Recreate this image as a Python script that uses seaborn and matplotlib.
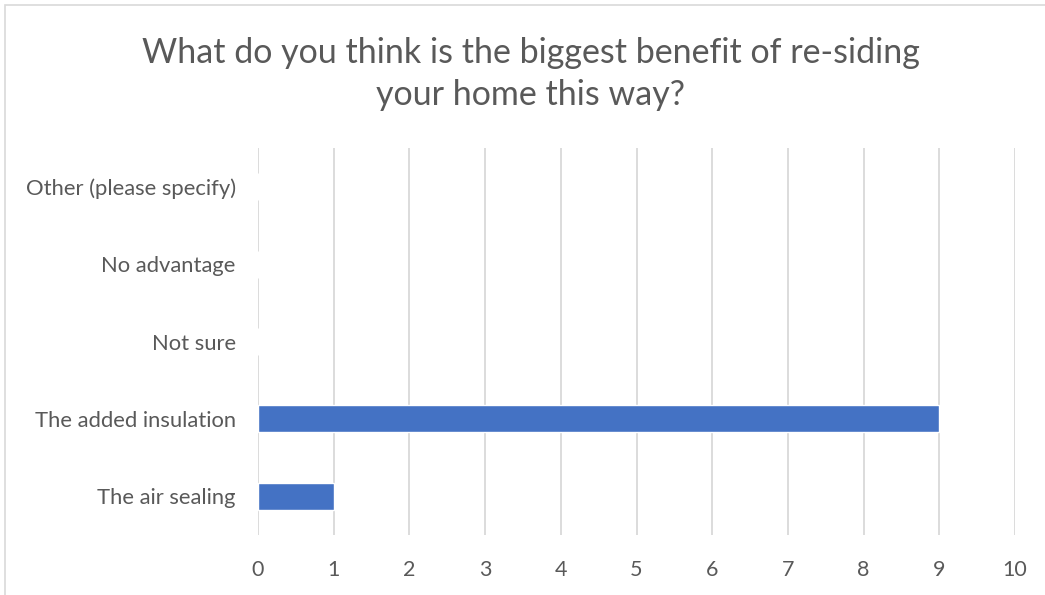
import matplotlib
matplotlib.use("Agg")
import matplotlib.pyplot as plt
from matplotlib.patches import Rectangle
import seaborn as sns
import pandas as pd

# Survey responses: biggest benefit of re-siding
categories = ["Other (please specify)", "No advantage", "Not sure",
              "The added insulation", "The air sealing"]
counts = [0, 0, 0, 9, 1]
x_ticks = [0, 1, 2, 3, 4, 5, 6, 7, 8, 9, 10]

title = "What do you think is the biggest benefit of re-siding\nyour home this way?"

sns.set_theme(style="white")
plt.rcParams["font.family"] = ["Lato", "DejaVu Sans"]

text_color = "#595959"
grid_color = "#d9d9d9"
bar_color = "#4472C4"

df = pd.DataFrame({"category": categories, "count": counts})

fig = plt.figure(figsize=(10.45, 5.95), dpi=100)
ax = fig.add_axes([258 / 1045, 1 - 535 / 595, (1015 - 258) / 1045, (535 - 148) / 595])

sns.barplot(data=df, x="count", y="category", order=categories,
            color=bar_color, saturation=1, width=0.35, ax=ax)

ax.set_xlim(0, 10)
ax.set_ylim(4.5, -0.5)
ax.set_xticks(x_ticks)
ax.set_xticklabels([str(t) for t in x_ticks])
ax.xaxis.grid(True, color=grid_color, linewidth=1.3)
ax.set_axisbelow(True)
for s in ax.spines.values():
    s.set_visible(False)
ax.set_xlabel("")
ax.set_ylabel("")
ax.tick_params(axis="x", colors=text_color, labelsize=15.5, length=0, pad=18)
ax.tick_params(axis="y", colors=text_color, labelsize=15.8, length=0, pad=16)

fig.text(531 / 1045, 1 - 74 / 595, title, ha="center", va="center",
         fontsize=24.5, color=text_color, linespacing=1.4)

# Chart area border
fig.patches.append(Rectangle((5 / 1045, -0.1), 1.2, 1 - 5 / 595 + 0.1,
                             transform=fig.transFigure, fill=False,
                             edgecolor=grid_color, linewidth=1.2))

fig.savefig("out.png", dpi=100, facecolor="white")
